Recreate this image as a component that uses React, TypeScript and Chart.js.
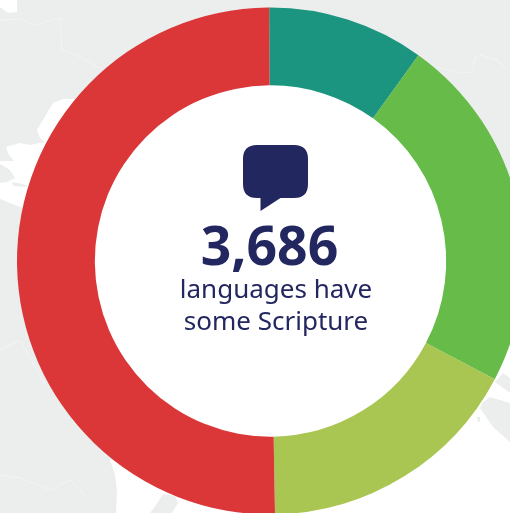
import React, { useEffect, useRef } from "react";
import { Chart, registerables } from "chart.js";

Chart.register(...registerables);

const categories = ["Full Bible", "New Testament", "Portions", "No Scripture"];
const shares = [10.0, 22.8, 17.0, 50.2];
const colors = ["#1C9580", "#66BB49", "#A9C552", "#DB3739"];
const headline = "3,686";
const captionLines = ["languages have", "some Scripture"];

const NAVY = "#23275F";
const LAND = "#ECEEEE";

// Decorative backdrop map: white sea shapes over the grey land
const seaShapes: number[][][] = [
  [[0,0],[17,0],[17,12],[8,13],[0,7]],
  [[75,99],[63,99],[53,103],[43,120],[37,130],[40,138],[45,142],[30,145],[20,143],[6,147],[9,155],[14,161],[0,161],[0,164],[10,170],[15,178],[7,182],[0,183],[0,199],[20,207],[24,208],[60,160]],
  [[110,460],[115,475],[117,490],[116,513],[510,513],[510,345],[480,370],[300,470]],
];
const landShapes: number[][][] = [
  [[12,182],[27,185],[26,187],[13,186]],
  [[150,513],[156,505],[163,494],[175,496],[178,503],[172,513]],
  [[503,373],[510,378],[510,393],[495,382]],
  [[490,397],[510,403],[510,442],[493,427],[480,408],[482,403]],
  [[477,417],[480,417],[480,422],[478,422]],
];
const borderLines: number[][][] = [
  [[437,67],[460,73],[472,72],[475,58],[480,55],[497,60],[508,71]],
  [[0,20],[20,19],[35,25],[60,18],[62,50],[80,57],[100,68]],
  [[0,350],[20,340],[45,385]],
  [[0,475],[20,478],[50,490],[70,480],[85,495]],
];

const backdropPlugin = {
  id: "backdrop",
  beforeDraw(chart: any) {
    const { ctx } = chart;
    ctx.save();
    ctx.fillStyle = LAND;
    ctx.fillRect(0, 0, chart.width, chart.height);
    const trace = (s: number[][]) => {
      ctx.beginPath();
      s.forEach(([x, y], i) => (i ? ctx.lineTo(x, y) : ctx.moveTo(x, y)));
    };
    const paint = (shapes: number[][][], color: string) => {
      ctx.fillStyle = color;
      for (const s of shapes) {
        trace(s);
        ctx.closePath();
        ctx.fill();
      }
    };
    paint(seaShapes, "#FFFFFF");
    paint(landShapes, LAND);
    ctx.strokeStyle = "#F3F4F4";
    ctx.lineWidth = 1;
    for (const s of borderLines) {
      trace(s);
      ctx.stroke();
    }
    const arc = chart.getDatasetMeta(0).data[0];
    ctx.fillStyle = "#FFFFFF";
    ctx.beginPath();
    ctx.arc(arc.x, arc.y, arc.innerRadius + 1, 0, Math.PI * 2);
    ctx.fill();
    ctx.restore();
  },
};

const centerPlugin = {
  id: "centerContent",
  afterDatasetsDraw(chart: any) {
    const { ctx } = chart;
    const arc = chart.getDatasetMeta(0).data[0];
    const cx = arc.x;
    const cy = arc.y;
    ctx.save();
    ctx.fillStyle = NAVY;
    // speech bubble
    const l = cx - 27.5, t = cy - 116, w = 65, h = 53, r = 14;
    ctx.beginPath();
    ctx.moveTo(l + r, t);
    ctx.lineTo(l + w - r, t);
    ctx.quadraticCurveTo(l + w, t, l + w, t + r);
    ctx.lineTo(l + w, t + h - r);
    ctx.quadraticCurveTo(l + w, t + h, l + w - r, t + h);
    ctx.lineTo(cx + 10, t + h);
    ctx.lineTo(cx - 10, t + h + 13);
    ctx.lineTo(cx - 10, t + h);
    ctx.lineTo(l + r, t + h);
    ctx.quadraticCurveTo(l, t + h, l, t + h - r);
    ctx.lineTo(l, t + r);
    ctx.quadraticCurveTo(l, t, l + r, t);
    ctx.closePath();
    ctx.fill();
    ctx.textAlign = "center";
    ctx.textBaseline = "alphabetic";
    ctx.font = '700 53.5px "Noto Sans"';
    ctx.fillText(headline, cx - 1, cy + 3.5);
    ctx.font = '400 26px "Noto Sans"';
    ctx.fillText(captionLines[0], cx + 5.5, cy + 37);
    ctx.fillText(captionLines[1], cx + 5.5, cy + 68.5);
    ctx.restore();
  },
};

export default function App() {
  const ref = useRef<HTMLCanvasElement>(null);
  useEffect(() => {
    document.body.style.margin = "0";
    const chart = new Chart(ref.current!, {
      type: "doughnut",
      data: {
        labels: categories,
        datasets: [{ data: shares, backgroundColor: colors, borderWidth: 0 }],
      },
      options: {
        animation: false,
        responsive: false,
        cutout: "69.3%",
        rotation: -0.3,
        layout: { padding: { top: 7, bottom: 7, left: 17, right: 17 } },
        plugins: { legend: { display: false }, tooltip: { enabled: false } },
      },
      plugins: [backdropPlugin, centerPlugin],
    });
    return () => chart.destroy();
  }, []);
  return (
    <div style={{ position: "relative", width: 510, height: 513, overflow: "hidden" }}>
      <canvas ref={ref} width={541} height={522} style={{ position: "absolute", left: 0, top: 0, width: 541, height: 522 }} />
    </div>
  );
}
